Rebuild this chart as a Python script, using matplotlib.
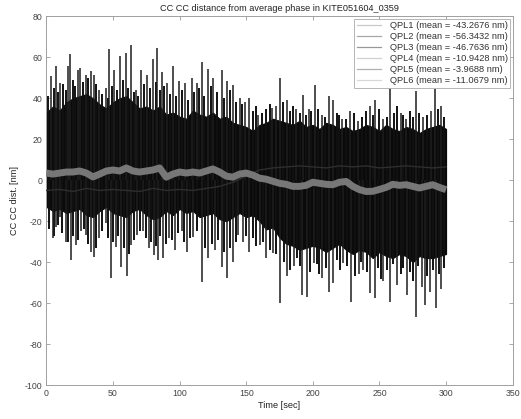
import matplotlib
matplotlib.use("Agg")
import matplotlib.pyplot as plt
from matplotlib.lines import Line2D
import numpy as np

plt.rcParams['font.family'] = ['Liberation Sans', 'DejaVu Sans']

# ---- data ----
t_core = list(range(0, 301, 5))
core_top = [33, 36, 34, 38, 40, 41, 42, 40, 37, 35, 38, 40, 41, 38, 35, 36, 34, 36, 32, 33,
            31, 30, 34, 32, 31, 33, 30, 31, 28, 27, 26, 24, 27, 28, 30, 29, 28, 27, 29, 26,
            27, 25, 28, 27, 25, 26, 24, 25, 27, 26, 24, 27, 25, 24, 26, 25, 23, 25, 26, 27, 25]
core_bot = [-13, -15, -14, -16, -15, -14, -17, -18, -15, -13, -16, -17, -18, -15, -14, -17,
            -19, -18, -15, -17, -14, -16, -15, -18, -17, -16, -19, -20, -18, -16, -18, -17,
            -20, -24, -23, -28, -31, -32, -34, -33, -32, -33, -35, -33, -31, -34, -36, -34,
            -35, -38, -35, -37, -38, -36, -37, -40, -37, -38, -38, -37, -36]

band_mid = [3.5, 3, 3.5, 4, 4, 4.5, 3.5, 1.6, 3, 4.5, 5, 4.5, 6, 4.5, 4, 4.5, 5, 6, 1.5, 3,
            4, 3.5, 4, 3.5, 4.5, 5.5, 4, 2, 1.5, 3, 3.5, 2.5, 1, 0.5, -0.5, -1.5, -2, -3, -3,
            -2.5, -1, -1.5, -2, -2.2, -1, -0.6, -3, -4.6, -5.5, -5.4, -4.5, -3.5, -2, -2.5,
            -2.2, -3, -3.8, -3, -2.2, -3.5, -4.6]

t_dot = list(range(0, 301, 10))
dot_mid = [-5, -4.5, -5.5, -4, -5, -4.5, -5, -5.5, -4, -5, -4.5, -5, -4, -3, -1, 2, 5, 6,
           6.5, 7, 6.5, 6, 7, 6.5, 7, 6, 6.5, 7, 6.5, 6, 6.5]

# tall spikes (upward / downward)
up_t = [3.5, 7.2, 10.6, 15.9, 17.9, 23.4, 25.4, 29.6, 33.3, 35.8, 39.5, 44.5, 47, 50.7, 55.2,
        59.5, 63.7, 67.4, 70.7, 75.6, 80, 83, 86.8, 90.5, 95, 99.3, 104, 109, 112.7, 116.6,
        121.6, 125.4, 131.6, 135.3, 139.8, 145.3, 149, 152.2, 159, 169.6, 172, 175.4, 180.3,
        187, 192.8, 197, 201.5, 207, 212, 215, 222, 228, 234, 243, 247, 253, 258, 266, 270,
        277.4, 283, 289, 291.6, 296.5]
up_v = [50.8, 55.7, 47.7, 55.7, 61.4, 54, 55, 51.6, 53.2, 51.6, 44, 45, 64, 54, 60.6, 62.2,
        65.8, 44, 54, 51.6, 59, 64.7, 53, 47.7, 55.7, 48.3, 47.7, 50, 47.7, 57.6, 54.4, 50,
        54, 48.3, 46.7, 40.2, 38, 40.2, 32, 35.4, 36, 50, 39.4, 35, 41.8, 35, 46.7, 32, 41,
        39, 30, 34, 28.8, 36, 39, 30, 45, 33, 30, 43.4, 31, 34, 44.3, 36]

dn_t = [4.7, 7, 10, 14.7, 18.4, 22, 26, 29.4, 33.3, 35.8, 39.5, 44.5, 48.3, 52, 55.7, 60.2,
        63.7, 68, 72.6, 76.9, 80.6, 83.6, 87.6, 91.8, 96.8, 101.9, 105.5, 110.4, 116.6, 121.6,
        126.6, 131.6, 135.3, 139.8, 144, 147.5, 152.2, 160, 165, 170, 175.4, 180.8, 185.7,
        192, 195.7, 200.7, 207, 212, 215.5, 223, 228.9, 234.5, 238, 243, 246.8, 253, 258,
        263, 270.5, 277.4, 281.6, 284, 288, 292.3, 296.5]
dn_v = [-28.3, -23, -18, -30, -38.9, -31.6, -25, -26.6, -34.8, -37.3, -28.3, -21, -47.8,
        -32.4, -42.2, -47, -31.6, -26.6, -25, -33.2, -36.4, -38.9, -38, -28.3, -34, -25,
        -34.8, -27.5, -49.5, -38, -34, -42.2, -47.8, -39.7, -26.6, -30, -34.8, -31.6, -38,
        -35.6, -60, -47, -42, -56, -56.8, -40.5, -47.8, -54.4, -50, -40.5, -59.3, -46, -44,
        -55.2, -57.6, -49, -59.3, -51, -56, -66.6, -52, -61, -54.4, -62.5, -53]

# medium spikes in between
mid_up_t = [1.5, 5.5, 9, 12.5, 14.5, 20, 21.5, 27.5, 31.5, 37.5, 42, 46, 49, 53, 57.5, 61.5,
            65.5, 69, 73, 77.5, 82, 85, 88.5, 92.5, 97, 101.5, 106.5, 111, 114.5, 118.5,
            123.5, 128, 133.5, 137.5, 142.5, 147, 155, 157, 162, 165, 167.5, 177.5, 182.5,
            185, 190, 195, 199, 204, 209.5, 218, 220, 225, 231, 237, 240, 245, 250, 255.5,
            261, 263.5, 268, 273, 275, 280, 286, 294, 298.5]
mid_up_v = [41, 45, 43, 47, 44, 49, 46, 48, 50, 47, 42, 40, 46, 44, 49, 45, 43, 41, 47, 45,
            48, 44, 46, 42, 41, 44, 39, 43, 45, 41, 46, 43, 40, 44, 38, 37, 34, 36, 33, 35,
            37, 38, 34, 36, 33, 32, 34, 35, 31, 33, 32, 30, 33, 31, 34, 32, 35, 31, 33, 36,
            32, 34, 31, 33, 32, 35, 31]
mid_dn_t = [2, 6, 8.5, 12, 16.5, 20, 24, 28, 31.5, 37.5, 42, 46.5, 50, 54, 58, 62, 66, 70,
            74.5, 78.5, 82, 85.5, 89.5, 94, 99, 103.5, 108, 113, 119, 124, 129, 133.5, 137.5,
            142, 150, 155, 157.5, 162.5, 167.5, 172.5, 178, 183, 188, 190, 198, 203, 205,
            210, 218, 220.5, 226, 231.5, 236, 240.5, 249, 251, 256, 260.5, 266, 268, 273,
            275.5, 279, 286, 290, 294.5, 298.5]
mid_dn_v = [-24, -27, -22, -26, -30, -27, -29, -24, -31, -33, -25, -28, -30, -27, -33, -36,
            -29, -25, -28, -30, -32, -27, -31, -29, -26, -30, -28, -25, -33, -31, -29, -35,
            -33, -30, -27, -28, -32, -30, -34, -36, -40, -44, -38, -42, -45, -41, -46, -43,
            -39, -44, -42, -47, -40, -45, -43, -48, -44, -41, -46, -43, -45, -49, -42, -47,
            -44, -46, -43]

series_names = ["QPL1", "QPL2", "QPL3", "QPL4", "QPL5", "QPL6"]
series_means = [-43.2676, -56.3432, -46.7636, -10.9428, -3.9688, -11.0679]
legend_colors = ["#c8c8c8", "#a8a8a8", "#989898", "#d0d0d0", "#b0b0b0", "#d8d8d8"]

title = "CC CC distance from average phase in KITE051604_0359"
x_ticks = [0, 50, 100, 150, 200, 250, 300, 350]
y_ticks = [-100, -80, -60, -40, -20, 0, 20, 40, 60, 80]

# ---- figure ----
fig = plt.figure(figsize=(5.21, 4.19), dpi=100)
ax = fig.add_axes([0.089, 0.081, 0.895, 0.880])

ax.fill_between(t_core, core_bot, core_top, color="#0a0a0a", linewidth=0.8,
                edgecolor="#0a0a0a", zorder=2)
ax.vlines(mid_up_t, 0, mid_up_v, color="#111111", linewidth=1.4, zorder=2)
ax.vlines(mid_dn_t, 0, mid_dn_v, color="#111111", linewidth=1.4, zorder=2)
ax.vlines(up_t, 0, up_v, color="#1e1e1e", linewidth=1.1, zorder=2)
ax.vlines(dn_t, 0, dn_v, color="#1e1e1e", linewidth=1.1, zorder=2)
ax.plot(t_dot, dot_mid, color="#2e2e2e", linewidth=1.0, zorder=3)
ax.plot(t_core, band_mid, color="#777777", linewidth=5.0, zorder=4,
        solid_capstyle="butt")

ax.set_xlim(0, 350)
ax.set_ylim(-100, 80)
ax.set_xticks(x_ticks)
ax.set_yticks(y_ticks)
ax.set_xticklabels([str(v) for v in x_ticks])
ax.set_yticklabels([str(v) for v in y_ticks])
ax.tick_params(direction="in", top=True, right=True, length=3, width=0.6,
               labelsize=6.3, colors="#999999", labelcolor="#444444", pad=3)
for s in ax.spines.values():
    s.set_color("#a0a0a0")
    s.set_linewidth(0.7)

ax.set_title(title, fontsize=6.6, color="#222222", pad=4)
ax.set_xlabel("Time [sec]", fontsize=6.6, color="#222222", labelpad=2)
ax.set_ylabel("CC CC dist. [nm]", fontsize=6.6, color="#222222", labelpad=4)

handles = [Line2D([0], [0], color=c, linewidth=0.9) for c in legend_colors]
labels = [f"{n} (mean = {m:.4f} nm)" for n, m in zip(series_names, series_means)]
leg = ax.legend(handles, labels, loc="upper right", fontsize=6.7, frameon=True,
                fancybox=False, borderaxespad=0.25, handlelength=2.6,
                labelspacing=0.2, borderpad=0.3, handletextpad=0.9)
leg.get_frame().set_edgecolor("#aaaaaa")
leg.get_frame().set_linewidth(0.6)
leg.get_frame().set_alpha(1.0)
leg.set_zorder(5)
for txt in leg.get_texts():
    txt.set_color("#333333")

fig.savefig("out.png", dpi=100, facecolor="white")
